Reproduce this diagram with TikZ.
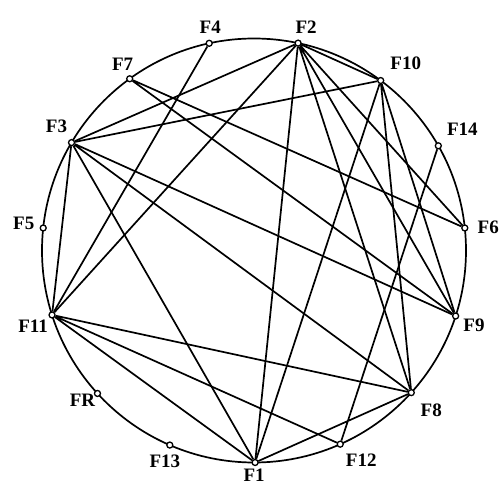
\documentclass[tikz,border=0pt]{standalone}
\usepackage{fontspec}
\setmainfont{Liberation Serif}
\usetikzlibrary{positioning}

\begin{document}
\begin{tikzpicture}[
  x=1pt, y=1pt,
  pt/.style={circle, draw, fill=white, inner sep=0pt, minimum size=6pt,
    line width=1.3pt},
  lbl/.style={inner sep=0pt, font=\bfseries\fontsize{19}{19}\selectfont},
  link/.style={line width=1.7pt}
]
\useasboundingbox (-254,-235.5) rectangle (248,250.5);
\draw[link] (0,0) circle (212);

% points on the rim, with their labels
\node[pt] (F2) at (78:212) {};     \node[lbl, above=6pt of F2, xshift=8pt] (tF2) {F2};
\node[pt] (F4) at (102.2:212) {};  \node[lbl, above=6pt of F4, xshift=1pt] (tF4) {F4};
\node[pt] (F7) at (125.9:212) {};  \node[lbl, above=4pt of F7, xshift=-7pt] (tF7) {F7};
\node[pt] (F3) at (149.4:212) {};  \node[lbl, above=6pt of F3, xshift=-15pt] (tF3) {F3};
\node[pt] (F5) at (173.9:212) {};  \node[lbl, left=5pt of F5, yshift=5pt] (tF5) {F5};
\node[pt] (F11) at (197.7:212) {}; \node[lbl, below=1pt of F11, xshift=-19pt] (tF11) {F11};
\node[pt] (FR) at (222.4:212) {};  \node[lbl, below=-3pt of FR, xshift=-15pt] (tFR) {FR};
\node[pt] (F13) at (246.6:212) {}; \node[lbl, below=6pt of F13, xshift=-5pt] (tF13) {F13};
\node[pt] (F1) at (270.3:212) {};  \node[lbl, below=3pt of F1, xshift=-1pt] (tF1) {F1};
\node[pt] (F12) at (294:212) {};   \node[lbl, below=6pt of F12, xshift=21pt] (tF12) {F12};
\node[pt] (F8) at (317.9:212) {};  \node[lbl, below=7pt of F8, xshift=20pt] (tF8) {F8};
\node[pt] (F9) at (342:212) {};    \node[lbl, right=4pt of F9, yshift=-9pt] (tF9) {F9};
\node[pt] (F6) at (6.1:212) {};    \node[lbl, right=9pt of F6, yshift=1pt] (tF6) {F6};
\node[pt] (F14) at (29.6:212) {};  \node[lbl, above=6pt of F14, xshift=24pt] (tF14) {F14};
\node[pt] (F10) at (53.3:212) {};  \node[lbl, above=7pt of F10, xshift=25pt] (tF10) {F10};

% chords
\draw[link] (F2) -- (F3) (F2) -- (F11) (F2) -- (F1) (F2) -- (F8)
  (F2) -- (F9) (F2) -- (F6) (F2) -- (F10);
\draw[link] (F10) -- (F3) (F10) -- (F1) (F10) -- (F8) (F10) -- (F9);
\draw[link] (F3) -- (F11) (F3) -- (F1) (F3) -- (F8) (F3) -- (F9);
\draw[link] (F7) -- (F6) (F7) -- (F9) (F4) -- (F11);
\draw[link] (F11) -- (F8) (F11) -- (F12) (F11) -- (F1);
\draw[link] (F14) -- (F12) (F1) -- (F8);
\end{tikzpicture}
\end{document}
